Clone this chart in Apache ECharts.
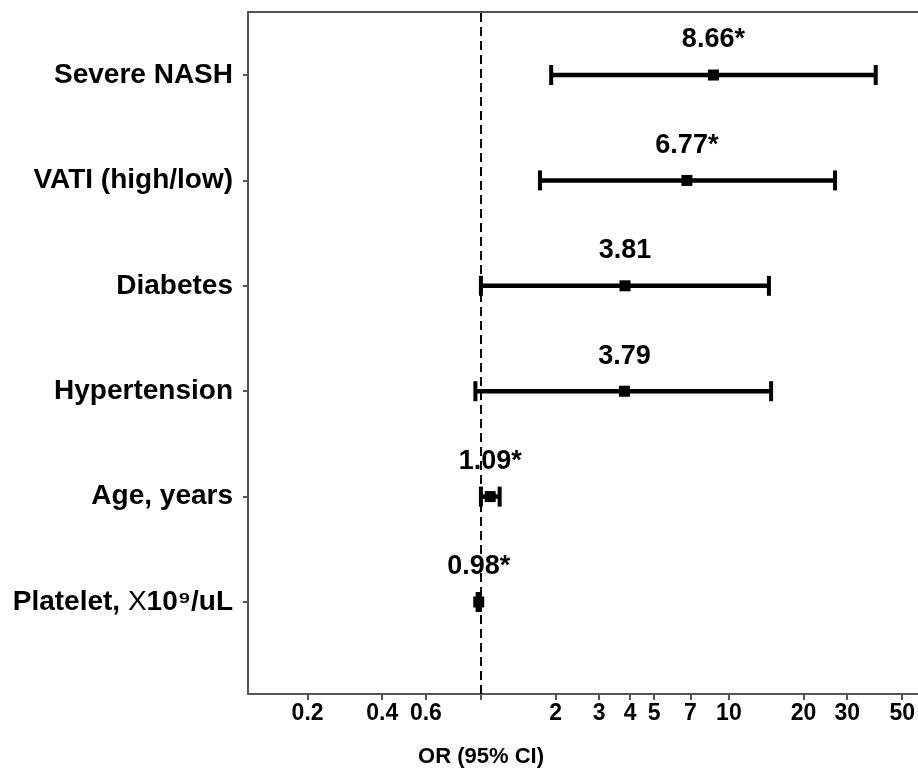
<!DOCTYPE html>
<html>
<head>
<meta charset="utf-8">
<script src="https://cdn.jsdelivr.net/npm/echarts@6/dist/echarts.min.js"></script>
<style>
html, body { margin: 0; padding: 0; background: #fff; }
#main { width: 918px; height: 781px; }
</style>
</head>
<body>
<div id="main"></div>
<script>
// 数据
const factors = ['Severe NASH', 'VATI (high/low)', 'Diabetes', 'Hypertension', 'Age, years', 'Platelet, X10⁹/uL'];
const rowPos = [6, 5, 4, 3, 2, 1];
const orValues = [8.66, 6.77, 3.81, 3.79, 1.09, 0.98];
const lowerCI = [1.92, 1.73, 1.00, 0.95, 1.00, 0.97];
const upperCI = [39.1, 26.8, 14.5, 14.8, 1.19, 0.99];
const orLabels = ['8.66*', '6.77*', '3.81', '3.79', '1.09*', '0.98*'];
const xTicks = [0.2, 0.4, 0.6, 1, 2, 3, 4, 5, 7, 10, 20, 30, 50];
const xTickLabels = ['0.2', '0.4', '0.6', '', '2', '3', '4', '5', '7', '10', '20', '30', '50'];

const FONT = "'Liberation Sans', Arial, sans-serif";
const X_MIN = 0.115;
const X_MAX = 57.8;

var myChart = echarts.init(document.getElementById('main'));

const ciData = factors.map((f, i) => [lowerCI[i], upperCI[i], rowPos[i]]);
const pointData = factors.map((f, i) => [orValues[i], rowPos[i]]);

myChart.setOption({
	animation: false,
	grid: {
		left: 248,
		right: 0,
		top: 12,
		bottom: 87,
		show: false
	},
	xAxis: [
		{
			type: 'log',
			logBase: 10,
			min: X_MIN,
			max: X_MAX,
			axisLine: { show: true, lineStyle: { color: '#555', width: 2 } },
			axisTick: {
				show: true,
				customValues: xTicks,
				length: 6,
				lineStyle: { color: '#555', width: 2 }
			},
			axisLabel: {
				customValues: xTicks,
				margin: 8,
				color: '#000',
				fontSize: 23,
				fontWeight: 'bold',
				fontFamily: FONT,
				formatter: function (v) {
					const i = xTicks.findIndex(t => Math.abs(t - v) / t < 1e-6);
					return i >= 0 ? xTickLabels[i] : '';
				}
			},
			splitLine: { show: false },
			minorTick: { show: false }
		},
		{
			// 顶部边框
			type: 'log',
			logBase: 10,
			position: 'top',
			min: X_MIN,
			max: X_MAX,
			axisLine: { show: true, onZero: false, lineStyle: { color: '#555', width: 2 } },
			axisTick: { show: false },
			axisLabel: { show: false },
			splitLine: { show: false }
		}
	],
	yAxis: {
		type: 'value',
		min: 0.127,
		max: 6.598,
		axisLine: { show: true, onZero: false, lineStyle: { color: '#555', width: 2 } },
		axisTick: {
			show: true,
			customValues: rowPos,
			length: 5,
			lineStyle: { color: '#555', width: 2 }
		},
		axisLabel: {
			customValues: rowPos,
			margin: 15,
			color: '#000',
			fontSize: 28,
			fontWeight: 'bold',
			fontFamily: FONT,
			formatter: function (v) {
				const i = rowPos.indexOf(Math.round(v));
				if (i < 0) return '';
				if (factors[i].indexOf('X10') >= 0) {
					return 'Platelet, {x|X}10⁹/uL';
				}
				return factors[i];
			},
			rich: {
				x: { fontSize: 28, fontWeight: 'normal', fontFamily: FONT, color: '#000' }
			}
		},
		splitLine: { show: false }
	},
	graphic: [
		{
			type: 'text',
			x: 481,
			y: 757,
			style: {
				text: 'OR (95% CI)',
				align: 'center',
				verticalAlign: 'middle',
				fill: '#000',
				font: 'bold 22px ' + FONT
			}
		}
	],
	series: [
		{
			name: 'CI',
			type: 'custom',
			encode: { x: [0, 1], y: 2 },
			renderItem: function (params, api) {
				const y = api.value(2);
				const lo = api.coord([api.value(0), y]);
				const hi = api.coord([api.value(1), y]);
				const capH = 10;
				return {
					type: 'group',
					children: [
						{ type: 'line', shape: { x1: lo[0], y1: lo[1], x2: hi[0], y2: hi[1] }, style: { stroke: '#000', lineWidth: 4.5 } },
						{ type: 'line', shape: { x1: lo[0], y1: lo[1] - capH, x2: lo[0], y2: lo[1] + capH }, style: { stroke: '#000', lineWidth: 4 } },
						{ type: 'line', shape: { x1: hi[0], y1: hi[1] - capH, x2: hi[0], y2: hi[1] + capH }, style: { stroke: '#000', lineWidth: 4 } }
					]
				};
			},
			data: ciData,
			z: 3
		},
		{
			name: 'OR',
			type: 'scatter',
			symbol: 'rect',
			symbolSize: 11,
			itemStyle: { color: '#000', opacity: 1 },
			label: {
				show: true,
				position: 'top',
				distance: 16,
				color: '#000',
				fontSize: 27,
				fontWeight: 'bold',
				fontFamily: FONT,
				formatter: function (p) { return orLabels[p.dataIndex]; }
			},
			markLine: {
				silent: true,
				symbol: 'none',
				label: { show: false },
				lineStyle: { color: '#000', width: 2, type: [9, 5], opacity: 1 },
				data: [{ xAxis: 1 }]
			},
			data: pointData,
			z: 4
		}
	]
});
</script>
</body>
</html>
